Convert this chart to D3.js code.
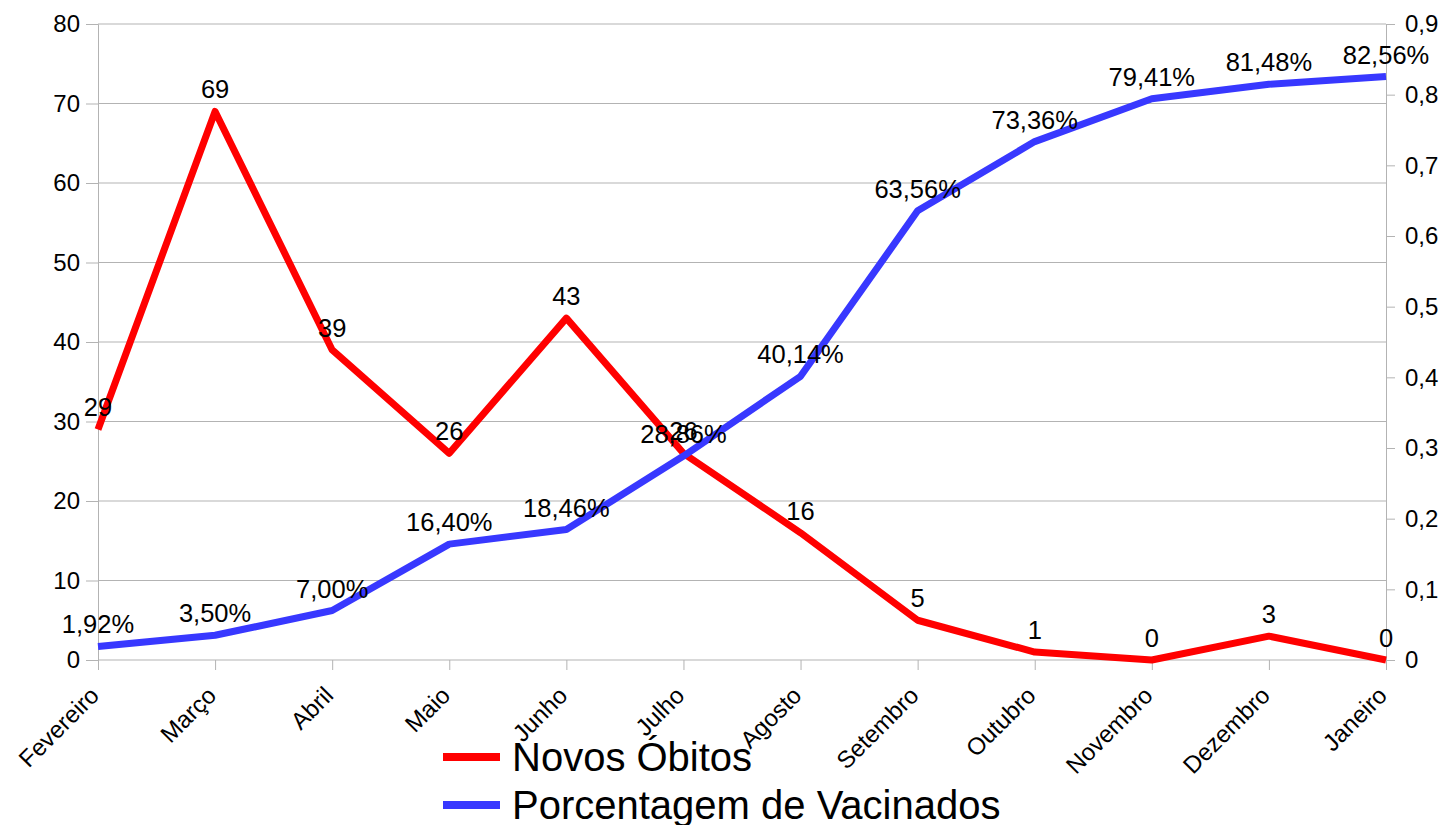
<!DOCTYPE html>
<html><head><meta charset="utf-8">
<script src="https://cdn.jsdelivr.net/npm/d3@7"></script>
<style>body{margin:0;background:#fff}svg{display:block}text{font-family:"Liberation Sans",Arial,sans-serif;fill:#000}</style>
</head><body><svg id="c" width="1445" height="825"></svg>
<script>
const months = ["Fevereiro","Março","Abril","Maio","Junho","Julho","Agosto","Setembro","Outubro","Novembro","Dezembro","Janeiro"];
const obitos = [29,69,39,26,43,26,16,5,1,0,3,0];
const vacinados = [0.0192,0.0350,0.0700,0.1640,0.1846,0.2886,0.4014,0.6356,0.7336,0.7941,0.8148,0.8256];
const leftTicks = [0,10,20,30,40,50,60,70,80];
const rightTicks = [0,0.1,0.2,0.3,0.4,0.5,0.6,0.7,0.8,0.9];
const seriesNames = ["Novos Óbitos","Porcentagem de Vacinados"];
const colors = ["#ff0000","#3838ff"];

const svg = d3.select("#c");
const L=98,R=1386,T=24,B=660;
const x = d3.scalePoint().domain(months).range([L,R]);
const yL = d3.scaleLinear().domain([0,80]).range([B,T]);
const yR = d3.scaleLinear().domain([0,0.9]).range([B,T]);
const grid="#b3b3b3";

// gridlines
svg.append("g").selectAll("line").data(leftTicks).join("line")
  .attr("x1",L).attr("x2",R).attr("y1",d=>yL(d)).attr("y2",d=>yL(d))
  .attr("stroke",grid).attr("stroke-width",1);

const fmt = d=>d3.format(".1f")(d).replace(".",",");
const gl = svg.append("g").attr("transform",`translate(${L},0)`)
  .call(d3.axisLeft(yL).tickValues(leftTicks).tickSize(12).tickPadding(6));
const gr = svg.append("g").attr("transform",`translate(${R},0)`)
  .call(d3.axisRight(yR).tickValues(rightTicks).tickSize(9).tickPadding(10).tickFormat(d=>d===0?"0":fmt(d)));
const gb = svg.append("g").attr("transform",`translate(0,${B})`)
  .call(d3.axisBottom(x).tickSize(10).tickPadding(6));
[gl,gr,gb].forEach(g=>{
  g.select(".domain").attr("stroke",grid).attr("stroke-width",1);
  g.selectAll(".tick line").attr("stroke",grid);
  g.selectAll("text").style("font-size","24px").style("font-family","Liberation Sans, Arial, sans-serif").attr("fill","#000");
});
gb.select(".domain").remove();
gb.selectAll(".tick text").attr("text-anchor","end").attr("dy","0")
  .attr("transform","translate(2,37) rotate(-45)").attr("y",0).attr("x",0);

// lines
const lineL = d3.line().x((d,i)=>x(months[i])).y(d=>yL(d));
const lineR = d3.line().x((d,i)=>x(months[i])).y(d=>yR(d));
svg.append("path").datum(obitos).attr("d",lineL).attr("fill","none").attr("stroke",colors[0]).attr("stroke-width",7).attr("stroke-linejoin","round");
svg.append("path").datum(vacinados).attr("d",lineR).attr("fill","none").attr("stroke",colors[1]).attr("stroke-width",7).attr("stroke-linejoin","round");

// data labels
svg.append("g").selectAll("text").data(obitos).join("text")
  .attr("x",(d,i)=>x(months[i])).attr("y",d=>yL(d)-13).attr("text-anchor","middle")
  .style("font-size","25.5px").text(d=>d);
svg.append("g").selectAll("text").data(vacinados).join("text")
  .attr("x",(d,i)=>x(months[i])).attr("y",d=>yR(d)-13).attr("text-anchor","middle")
  .style("font-size","25.5px").text(d=>d3.format(".2f")(d*100).replace(".",",")+"%");

// legend
const lg = svg.append("g").selectAll("g").data(seriesNames).join("g")
  .attr("transform",(d,i)=>`translate(443,${757+i*48})`);
lg.append("line").attr("x1",0).attr("x2",57).attr("y1",0).attr("y2",0)
  .attr("stroke",(d,i)=>colors[i]).attr("stroke-width",8);
lg.append("text").attr("x",69).attr("y",14).style("font-size","40px").text(d=>d);
</script></body></html>
